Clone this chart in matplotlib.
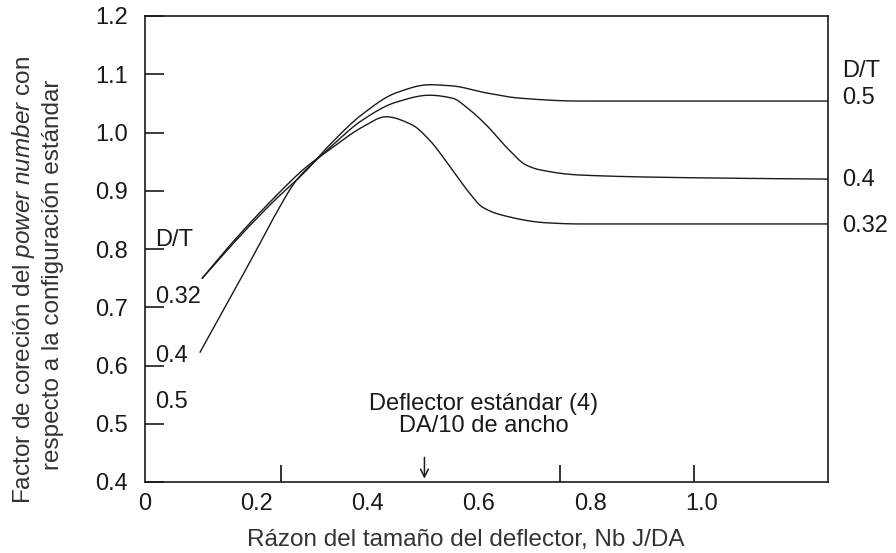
import numpy as np
import matplotlib.pyplot as plt

plt.rcParams['font.family'] = ['Liberation Sans', 'DejaVu Sans']
plt.rcParams['mathtext.fontset'] = 'custom'
plt.rcParams['mathtext.it'] = 'Liberation Sans:italic'
plt.rcParams['mathtext.rm'] = 'Liberation Sans'

# curves (x = Nb J/DA, y = correction factor)
dt_032_x = [0.103, 0.156, 0.228, 0.290, 0.331, 0.390, 0.433, 0.480, 0.511, 0.552, 0.583, 0.606, 0.642, 0.721, 0.781, 1.227]
dt_032_y = [0.750, 0.810, 0.884, 0.941, 0.970, 1.009, 1.027, 1.013, 0.987, 0.936, 0.896, 0.872, 0.858, 0.845, 0.843, 0.843]

dt_04_x = [0.099, 0.164, 0.200, 0.236, 0.272, 0.308, 0.331, 0.390, 0.451, 0.511, 0.552, 0.583, 0.613, 0.649, 0.685, 0.709, 0.781, 1.009, 1.227]
dt_04_y = [0.623, 0.735, 0.798, 0.862, 0.918, 0.953, 0.973, 1.021, 1.052, 1.064, 1.059, 1.039, 1.013, 0.975, 0.944, 0.936, 0.927, 0.922, 0.920]

dt_05_x = [0.103, 0.156, 0.228, 0.290, 0.331, 0.390, 0.451, 0.511, 0.552, 0.613, 0.673, 0.781, 1.227]
dt_05_y = [0.750, 0.807, 0.879, 0.935, 0.978, 1.031, 1.068, 1.082, 1.080, 1.068, 1.059, 1.054, 1.054]

y_ticks = [0.4, 0.5, 0.6, 0.7, 0.8, 0.9, 1.0, 1.1, 1.2]
x_ticks = [0, 0.2, 0.4, 0.6, 0.8, 1.0]
x_ticklabels = ['0', '0.2', '0.4', '0.6', '0.8', '1.0']
x_marks = [0.245, 0.745, 0.987]

left_labels = ['D/T', '0.32', '0.4', '0.5']
right_labels = ['D/T', '0.5', '0.4', '0.32']

std_baffle = 0.502

INK = '#1a1a1a'
GREY = '#333333'


def pchip(xs, ys, n=800):
    # monotone cubic through the read points, only to draw them smoothly
    x = np.asarray(xs, float)
    y = np.asarray(ys, float)
    h = np.diff(x)
    d = np.diff(y) / h
    m = np.zeros_like(y)
    m[0], m[-1] = d[0], d[-1]
    for k in range(1, len(x) - 1):
        if d[k - 1] * d[k] > 0:
            w1 = 2 * h[k] + h[k - 1]
            w2 = h[k] + 2 * h[k - 1]
            m[k] = (w1 + w2) / (w1 / d[k - 1] + w2 / d[k])
    xx = np.linspace(x[0], x[-1], n)
    i = np.clip(np.searchsorted(x, xx) - 1, 0, len(h) - 1)
    t = (xx - x[i]) / h[i]
    yy = ((2 * t**3 - 3 * t**2 + 1) * y[i] + (t**3 - 2 * t**2 + t) * h[i] * m[i]
          + (-2 * t**3 + 3 * t**2) * y[i + 1] + (t**3 - t**2) * h[i] * m[i + 1])
    return xx, yy


fig = plt.figure(figsize=(8.96, 5.53), dpi=100)
ax = fig.add_axes([145 / 896, 71 / 553, 683 / 896, 466 / 553])

for xs, ys in [(dt_032_x, dt_032_y), (dt_04_x, dt_04_y), (dt_05_x, dt_05_y)]:
    sx, sy = pchip(xs, ys)
    ax.plot(sx, sy, color=INK, lw=1.0)

ax.set_xlim(0, 1.227)
ax.set_ylim(0.4, 1.2)

ax.set_yticks(y_ticks)
ax.set_yticklabels(['%.1f' % v for v in y_ticks])
ax.tick_params(axis='y', direction='in', length=14, width=1.2, pad=12, labelsize=17, colors=INK)

ax.set_xticks(x_ticks)
ax.set_xticklabels(x_ticklabels)
ax.tick_params(axis='x', which='major', length=0, pad=8, labelsize=17, colors=INK)
ax.set_xticks(x_marks, minor=True)
ax.tick_params(axis='x', which='minor', direction='in', length=12, width=1.4, color=GREY)

for s in ax.spines.values():
    s.set_linewidth(1.2)
    s.set_color(INK)

# curve labels on the left
for lab, yy in zip(left_labels, [0.815, 0.717, 0.617, 0.537]):
    ax.text(0.018, yy, lab, fontsize=17, color=INK, ha='left', va='center')

# curve labels on the right
for lab, yy in zip(right_labels, [1.106, 1.060, 0.919, 0.840]):
    ax.text(1.252, yy, lab, fontsize=17, color=INK, ha='left', va='center', clip_on=False)

ax.text(0.608, 0.515, 'Deflector estándar (4)\nDA/10 de ancho', fontsize=17, color=INK,
        ha='center', va='center', linespacing=1.05)
ax.annotate('', xy=(std_baffle, 0.401), xytext=(std_baffle, 0.447),
            arrowprops=dict(arrowstyle='->', color=INK, lw=1.1, mutation_scale=14))

fig.text(24 / 896, 1 - 280 / 553, r'Factor de coreción del $\it{power\ number}$ con', rotation=90,
         fontsize=17.5, color=GREY, ha='center', va='center')
fig.text(53 / 896, 1 - 275 / 553, 'respecto a la configuración estándar', rotation=90,
         fontsize=17.5, color=GREY, ha='center', va='center')
fig.text(466 / 896, 1 - 540 / 553, 'Rázon del tamaño del deflector, Nb J/DA', fontsize=17.5,
         color=GREY, ha='center', va='center')

fig.savefig('out.png', dpi=100)
